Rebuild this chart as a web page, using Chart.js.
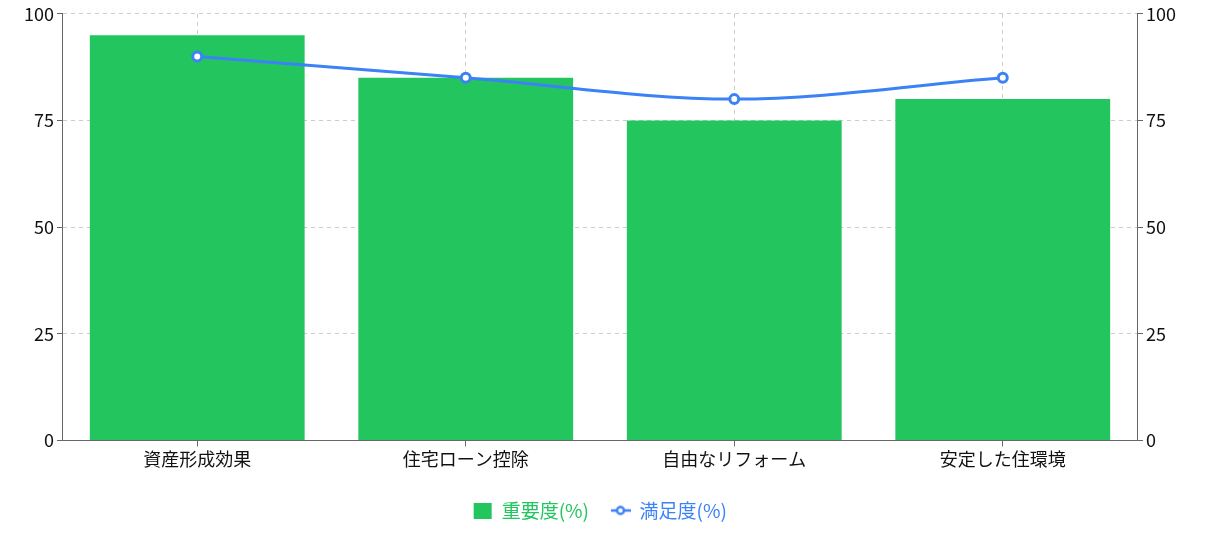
<!DOCTYPE html>
<html>
<head>
<meta charset="utf-8">
<script src="https://cdn.jsdelivr.net/npm/chart.js@4.4.1/dist/chart.umd.min.js"></script>
<style>
  html, body { margin: 0; padding: 0; background: #fff; }
  #wrap { width: 1209px; height: 537px; }
</style>
</head>
<body>
<div id="wrap"><canvas id="mainChart"></canvas></div>
<script>
// chart data
const categories = ['資産形成効果', '住宅ローン控除', '自由なリフォーム', '安定した住環境'];
const importance = [95, 85, 75, 80];
const satisfaction = [90, 85, 80, 85];
const yTicks = [0, 25, 50, 75, 100];

const GREEN = '#22c55e';
const BLUE = '#3b82f6';
const FONT = "'Noto Sans CJK JP', 'Noto Sans', sans-serif";

// small icon for the line series in the legend
function lineIcon() {
    const c = document.createElement('canvas');
    c.width = 20;
    c.height = 12;
    const g = c.getContext('2d');
    g.strokeStyle = BLUE;
    g.lineWidth = 2.5;
    g.beginPath();
    g.moveTo(0, 6);
    g.lineTo(20, 6);
    g.stroke();
    g.fillStyle = '#fff';
    g.beginPath();
    g.arc(10, 6, 3.5, 0, Math.PI * 2);
    g.fill();
    g.stroke();
    return c;
}

function boxIcon() {
    const c = document.createElement('canvas');
    c.width = 20;
    c.height = 16;
    const g = c.getContext('2d');
    g.fillStyle = GREEN;
    g.fillRect(1, 0, 18, 16);
    return c;
}

const axisGrid = {
    color: '#cccccc',
    tickColor: '#666',
    tickBorderDash: [],
    tickLength: 6
};

const ctx = document.getElementById('mainChart').getContext('2d');
new Chart(ctx, {
    type: 'bar',
    data: {
        labels: categories,
        datasets: [{
            type: 'line',
            label: '満足度(%)',
            data: satisfaction,
            borderColor: BLUE,
            backgroundColor: '#fff',
            borderWidth: 3,
            pointRadius: 4.5,
            pointBorderWidth: 3,
            pointBackgroundColor: '#fff',
            pointBorderColor: BLUE,
            cubicInterpolationMode: 'monotone',
            yAxisID: 'y2',
            order: 0
        }, {
            type: 'bar',
            label: '重要度(%)',
            data: importance,
            backgroundColor: GREEN,
            barPercentage: 0.8,
            categoryPercentage: 1.0,
            yAxisID: 'y',
            order: 1
        }]
    },
    options: {
        responsive: true,
        maintainAspectRatio: false,
        animation: false,
        layout: {
            padding: { left: 21, right: 30, top: 6, bottom: 7 }
        },
        scales: {
            x: {
                offset: true,
                // leave some room between the labels and the legend
                afterFit: scale => { scale.height += 7; },
                grid: {
                    offset: false,
                    color: '#cccccc',
                    tickColor: '#666',
                    tickBorderDash: [],
                    tickLength: 6
                },
                border: { color: '#666', width: 1, dash: [4, 4] },
                ticks: {
                    color: '#111',
                    font: { family: FONT, size: 18 },
                    padding: 2
                }
            },
            y: {
                position: 'left',
                min: 0,
                max: 100,
                afterBuildTicks: axis => { axis.ticks = yTicks.map(v => ({ value: v })); },
                grid: axisGrid,
                border: { color: '#666', width: 1, dash: [4, 4] },
                ticks: {
                    color: '#111',
                    font: { family: FONT, size: 18 },
                    padding: 3
                }
            },
            y2: {
                position: 'right',
                min: 0,
                max: 100,
                afterBuildTicks: axis => { axis.ticks = yTicks.map(v => ({ value: v })); },
                grid: { drawOnChartArea: false, tickColor: '#666', tickLength: 6 },
                border: { color: '#666', width: 1 },
                ticks: {
                    color: '#111',
                    font: { family: FONT, size: 18 },
                    padding: 3
                }
            }
        },
        plugins: {
            tooltip: { enabled: false },
            legend: {
                position: 'bottom',
                labels: {
                    usePointStyle: true,
                    padding: 22,
                    font: { family: FONT, size: 19 },
                    generateLabels: chart => {
                        return [
                            { text: '重要度(%)', fontColor: GREEN, pointStyle: boxIcon(), datasetIndex: 1, lineWidth: 0, strokeStyle: 'transparent' },
                            { text: '満足度(%)', fontColor: BLUE, pointStyle: lineIcon(), datasetIndex: 0, lineWidth: 0, strokeStyle: 'transparent' }
                        ];
                    }
                }
            }
        }
    }
});
</script>
</body>
</html>
